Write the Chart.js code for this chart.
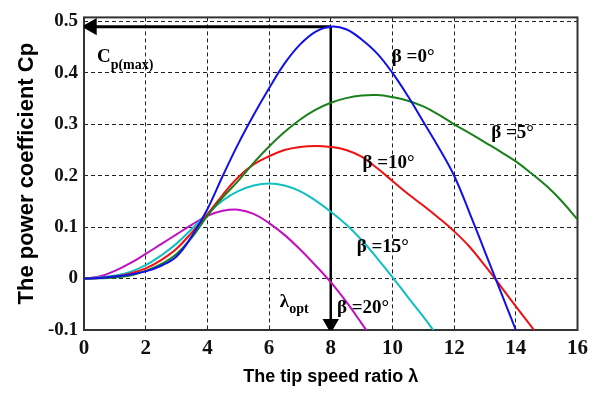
<!DOCTYPE html>
<html><head>
<script src="https://cdn.jsdelivr.net/npm/chart.js"></script>
<style>
  body { margin: 0; background: #fff; }
  #wrap { width: 594px; height: 394px; }
</style>
</head>
<body>
<div id="wrap"><canvas id="chart"></canvas></div>
<script>
// tip speed ratio samples
const lambda = [0, 0.5, 1, 1.5, 2, 2.5, 3, 3.5, 4, 4.5, 5, 5.5, 6, 6.5, 7, 7.5, 8,
  8.5, 9, 9.5, 10, 10.5, 11, 11.5, 12, 12.5, 13, 13.5, 14, 14.5, 15, 15.5, 16];

// Cp for each pitch angle
const cpBeta0 = [0, 0.001, 0.004, 0.008, 0.014, 0.025, 0.043, 0.083, 0.135, 0.2, 0.262, 0.318,
  0.37, 0.418, 0.455, 0.48, 0.49, 0.485, 0.465, 0.438, 0.4, 0.355, 0.305, 0.255, 0.2, 0.128,
  0.052, -0.024, -0.1, -0.18];
const cpBeta5 = [0, 0.0005, 0.002, 0.006, 0.015, 0.028, 0.048, 0.08, 0.122, 0.158, 0.19, 0.225,
  0.257, 0.285, 0.309, 0.328, 0.342, 0.351, 0.356, 0.357, 0.353, 0.346, 0.335, 0.319, 0.3,
  0.283, 0.265, 0.247, 0.228, 0.205, 0.18, 0.15, 0.115];
const cpBeta10 = [0, 0.001, 0.004, 0.01, 0.02, 0.036, 0.058, 0.09, 0.125, 0.163, 0.197, 0.222,
  0.238, 0.25, 0.256, 0.258, 0.256, 0.25, 0.237, 0.215, 0.19, 0.165, 0.142, 0.118, 0.092,
  0.062, 0.025, -0.014, -0.054, -0.093, -0.133];
const cpBeta15 = [0, 0.002, 0.006, 0.013, 0.026, 0.045, 0.068, 0.097, 0.126, 0.152, 0.17, 0.181,
  0.185, 0.181, 0.17, 0.152, 0.13, 0.105, 0.075, 0.04, 0.003, -0.036, -0.074, -0.115];
const cpBeta20 = [0, 0.004, 0.015, 0.03, 0.048, 0.067, 0.086, 0.105, 0.122, 0.132, 0.134, 0.126,
  0.108, 0.085, 0.057, 0.026, -0.007, -0.045, -0.087, -0.13];

// optimum point
const cpMax = 0.49;
const lambdaOpt = 8;

const seriesNames = ['β=0°', 'β=5°', 'β=10°', 'β=15°', 'β=20°'];
const seriesValues = [cpBeta0, cpBeta5, cpBeta10, cpBeta15, cpBeta20];
const seriesColors = ['#1010e8', '#1a801a', '#f01010', '#10c0c0', '#c010c0'];

// text annotations (data coords, left/middle anchored)
const notes = [
  { main: 'β =0°', x: 9.98, y: 0.43 },
  { main: 'β =5°', x: 13.2, y: 0.283 },
  { main: 'β =10°', x: 9.03, y: 0.224 },
  { main: 'β =15°', x: 8.84, y: 0.061 },
  { main: 'β =20°', x: 8.2, y: -0.057 },
  { main: 'λ', sub: 'opt', x: 6.35, y: -0.045 },
  { main: 'C', sub: 'p(max)', x: 0.42, y: 0.43 }
];

const datasets = seriesValues.map((vals, i) => ({
  label: seriesNames[i],
  data: vals.map((v, j) => ({ x: lambda[j], y: v })),
  borderColor: seriesColors[i],
  borderWidth: 2,
  pointRadius: 0,
  tension: 0.4,
  fill: false
}));

// arrows to the optimum
datasets.push({
  label: 'cpArrow',
  data: [{ x: lambdaOpt, y: cpMax }, { x: 0.25, y: cpMax }],
  borderColor: '#000', backgroundColor: '#000',
  borderWidth: 3,
  pointStyle: 'triangle', pointRotation: 270,
  pointRadius: [0, 7],
  tension: 0
});
datasets.push({
  label: 'lambdaArrow',
  data: [{ x: lambdaOpt, y: cpMax }, { x: lambdaOpt, y: -0.088 }],
  borderColor: '#000', backgroundColor: '#000',
  borderWidth: 2.5,
  pointStyle: 'triangle', pointRotation: 180,
  pointRadius: [0, 7],
  tension: 0
});

const frame = {
  id: 'frame',
  beforeDatasetsDraw(chart) {
    const { ctx, chartArea: a } = chart;
    ctx.save();
    ctx.strokeStyle = '#333';
    ctx.lineWidth = 2;
    ctx.strokeRect(a.left, a.top, a.right - a.left, a.bottom - a.top);
    ctx.restore();
  }
};

const textNotes = {
  id: 'textNotes',
  afterDatasetsDraw(chart) {
    const { ctx, scales } = chart;
    ctx.save();
    ctx.fillStyle = '#000';
    ctx.textBaseline = 'middle';
    ctx.textAlign = 'left';
    notes.forEach(n => {
      const px = scales.x.getPixelForValue(n.x);
      const py = scales.y.getPixelForValue(n.y);
      ctx.font = 'bold 19px "Liberation Serif"';
      ctx.fillText(n.main, px, py);
      if (n.sub) {
        const w = ctx.measureText(n.main).width;
        ctx.font = 'bold 14px "Liberation Serif"';
        ctx.fillText(n.sub, px + w, py + 8);
      }
    });
    ctx.restore();
  }
};

const ctx = document.getElementById('chart').getContext('2d');
new Chart(ctx, {
  type: 'line',
  data: { datasets },
  plugins: [frame, textNotes],
  options: {
    responsive: true,
    maintainAspectRatio: false,
    animation: false,
    layout: { padding: { top: 12, right: 16, left: 0, bottom: 0 } },
    plugins: { legend: { display: false }, tooltip: { enabled: false } },
    scales: {
      x: {
        type: 'linear',
        min: 0, max: 16,
        afterFit(s) { s.height = 64; },
        border: { display: false, dash: [4, 3] },
        grid: { color: '#222', lineWidth: 1, drawTicks: false },
        ticks: {
          stepSize: 2, padding: 6, color: '#111',
          font: { family: 'Liberation Serif', size: 21, weight: 'bold' }
        },
        title: {
          display: true, text: 'The tip speed ratio λ', color: '#000',
          font: { family: 'Liberation Sans', size: 18, weight: 'bold' },
          padding: { top: 0, bottom: 6 }
        }
      },
      y: {
        min: -0.1, max: 0.508,
        afterFit(s) { s.width = 84; },
        border: { display: false, dash: [4, 3] },
        grid: { color: '#222', lineWidth: 1, drawTicks: false },
        ticks: {
          stepSize: 0.1, includeBounds: false, padding: 6, color: '#111',
          font: { family: 'Liberation Serif', size: 19, weight: 'bold' },
          callback: v => String(+v.toFixed(1))
        },
        title: {
          display: true, text: 'The power coefficient Cp', color: '#000',
          font: { family: 'Liberation Sans', size: 22, weight: 'bold' },
          padding: { top: 14, bottom: 0 }
        }
      }
    }
  }
});
</script>
</body></html>
